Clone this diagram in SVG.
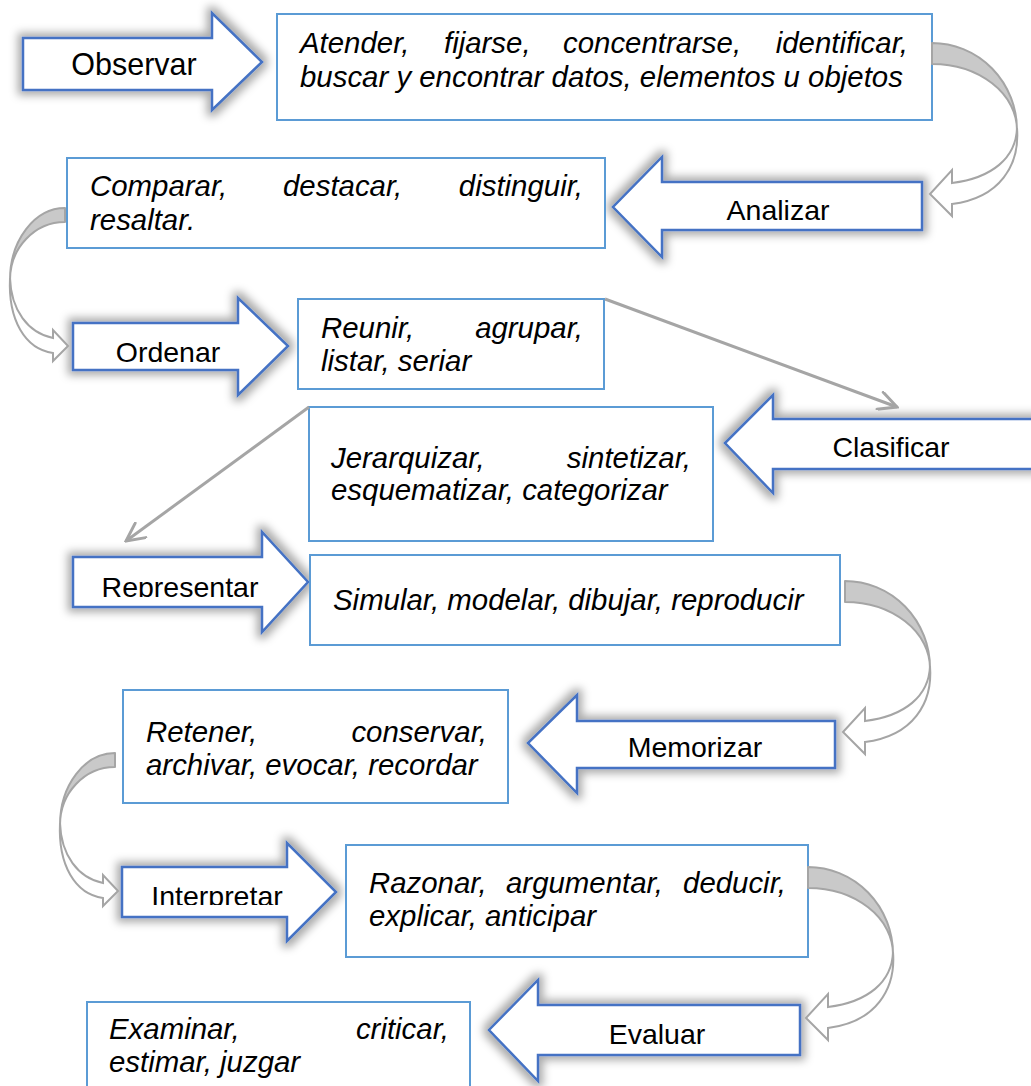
<svg xmlns="http://www.w3.org/2000/svg" width="1031" height="1086" viewBox="0 0 1031 1086">
<style>
.arr{fill:#fff;stroke:#4472C4;stroke-width:2.5;stroke-linejoin:miter;filter:url(#sh)}
.box{fill:#fff;stroke:#5B9BD5;stroke-width:2}
.lbl{font-family:"Liberation Sans",Arial,sans-serif;font-size:28.5px;fill:#000;text-anchor:middle}
.txt{font-family:"Liberation Sans",Arial,sans-serif;font-size:29.4px;font-style:italic;fill:#000}
.e{text-anchor:end}
.cu{fill:#C9C9C9;stroke:#A5A5A5;stroke-width:2;stroke-linejoin:round}
.cl{fill:#fff;stroke:#A5A5A5;stroke-width:2;stroke-linejoin:miter}
.ln{fill:none;stroke:#A5A5A5;stroke-width:3;marker-end:url(#ah)}
</style>
<defs>
<filter id="sh" x="-20%" y="-40%" width="140%" height="180%">
<feMorphology in="SourceAlpha" operator="dilate" radius="4" result="d"/>
<feGaussianBlur in="d" stdDeviation="4" result="b"/>
<feFlood flood-color="#000" flood-opacity="0.33"/>
<feComposite in2="b" operator="in"/>
<feMerge><feMergeNode/><feMergeNode in="SourceGraphic"/></feMerge>
</filter>
<marker id="ah" viewBox="0 0 22 20" refX="20" refY="10" markerWidth="22" markerHeight="20" markerUnits="userSpaceOnUse" orient="auto">
<path d="M2,1 L20,10 L2,19" fill="none" stroke="#A5A5A5" stroke-width="3" stroke-linecap="round"/>
</marker>
<clipPath id="cR"><rect x="60" y="540" width="220" height="57"/></clipPath>
<clipPath id="cI"><rect x="110" y="850" width="200" height="55"/></clipPath>
<g id="curR">
<path class="cu" d="M932,43 A85,87 0 0 1 1017,130 A85,66 0 0 0 932,64 Z"/>
<path class="cl" d="M1017,128 C1016,158 992,178 952,183 L952,170 L930,194 L952,216 L952,204 C1000,198 1020,165 1017,128 Z"/>
</g>
<g id="curL">
<path class="cu" d="M65,208 A55,72 0 0 0 10,280 A55,58 0 0 1 65,222 Z"/>
<path class="cl" d="M10,278 C11,310 28,333 53,338 L53,330 L68,346 L53,361 L53,353 C25,349 8,320 10,278 Z"/>
</g>
</defs>
<rect width="1031" height="1086" fill="#fff"/>

<g id="observar">
<polygon class="arr" points="23,38 212,38 212,13 262,62 212,110 212,90 23,90"/>
<text class="lbl" x="134" y="75" style="font-size:30.5px">Observar</text>
</g>
<g id="analizar">
<polygon class="arr" points="922,182 662,182 662,157 613,207 662,257 662,230 922,230"/>
<text class="lbl" x="778" y="220">Analizar</text>
</g>
<g id="ordenar">
<polygon class="arr" points="73,323 238,323 238,298 288,346 238,395 238,370 73,370"/>
<text class="lbl" x="168" y="362">Ordenar</text>
</g>
<g id="clasificar">
<polygon class="arr" points="1045,419 773,419 773,395 725,443 773,493 773,469 1045,469"/>
<text class="lbl" x="891" y="457">Clasificar</text>
</g>
<g id="representar">
<polygon class="arr" points="73,557 262,557 262,532 308,582 262,632 262,607 73,607"/>
<text class="lbl" x="180" y="597" clip-path="url(#cR)">Representar</text>
</g>
<g id="memorizar">
<polygon class="arr" points="835,721 577,721 577,695 528,743 577,793 577,768 835,768"/>
<text class="lbl" x="695" y="757">Memorizar</text>
</g>
<g id="interpretar">
<polygon class="arr" points="122,867 287,867 287,843 336,892 287,941 287,917 122,917"/>
<text class="lbl" x="217" y="906" clip-path="url(#cI)">Interpretar</text>
</g>
<g id="evaluar">
<polygon class="arr" points="800,1005 538,1005 538,980 489,1030 538,1081 538,1055 800,1055"/>
<text class="lbl" x="657" y="1044">Evaluar</text>
</g>

<g id="box1">
<rect class="box" x="277" y="14" width="655" height="106"/>
<text class="txt" y="53"><tspan x="300">Atender,</tspan><tspan x="444">fijarse,</tspan><tspan x="563">concentrarse,</tspan><tspan x="908" class="e">identificar,</tspan></text>
<text class="txt" x="300" y="87">buscar y encontrar datos, elementos u objetos</text>
</g>
<g id="box2">
<rect class="box" x="67" y="158" width="538" height="90"/>
<text class="txt" y="196"><tspan x="90">Comparar,</tspan><tspan x="283">destacar,</tspan><tspan x="583" class="e">distinguir,</tspan></text>
<text class="txt" x="90" y="230">resaltar.</text>
</g>
<g id="box3">
<rect class="box" x="298" y="299" width="306" height="90"/>
<text class="txt" y="338"><tspan x="321">Reunir,</tspan><tspan x="583" class="e">agrupar,</tspan></text>
<text class="txt" x="321" y="371">listar, seriar</text>
</g>
<g id="box4">
<rect class="box" x="309" y="407" width="404" height="134"/>
<text class="txt" y="468"><tspan x="331">Jerarquizar,</tspan><tspan x="691" class="e">sintetizar,</tspan></text>
<text class="txt" x="331" y="500">esquematizar, categorizar</text>
</g>
<g id="box5">
<rect class="box" x="310" y="555" width="530" height="90"/>
<text class="txt" x="333" y="610">Simular, modelar, dibujar, reproducir</text>
</g>
<g id="box6">
<rect class="box" x="123" y="690" width="385" height="113"/>
<text class="txt" y="742"><tspan x="146">Retener,</tspan><tspan x="487" class="e">conservar,</tspan></text>
<text class="txt" x="146" y="775">archivar, evocar, recordar</text>
</g>
<g id="box7">
<rect class="box" x="346" y="845" width="462" height="112"/>
<text class="txt" y="893"><tspan x="369">Razonar,</tspan><tspan x="506">argumentar,</tspan><tspan x="786" class="e">deducir,</tspan></text>
<text class="txt" x="369" y="926">explicar, anticipar</text>
</g>
<g id="box8">
<rect class="box" x="87" y="1002" width="383" height="100"/>
<text class="txt" y="1039"><tspan x="109">Examinar,</tspan><tspan x="449" class="e">criticar,</tspan></text>
<text class="txt" x="109" y="1072">estimar, juzgar</text>
</g>

<g id="connectors">
<use href="#curR"/>
<use href="#curL"/>
<use href="#curR" transform="translate(-87,538)"/>
<use href="#curL" transform="translate(50,545)"/>
<use href="#curR" transform="translate(-124,824)"/>
<path class="ln" d="M605,299 L897,407"/>
<path class="ln" d="M309,407 L126,541"/>
</g>
</svg>
